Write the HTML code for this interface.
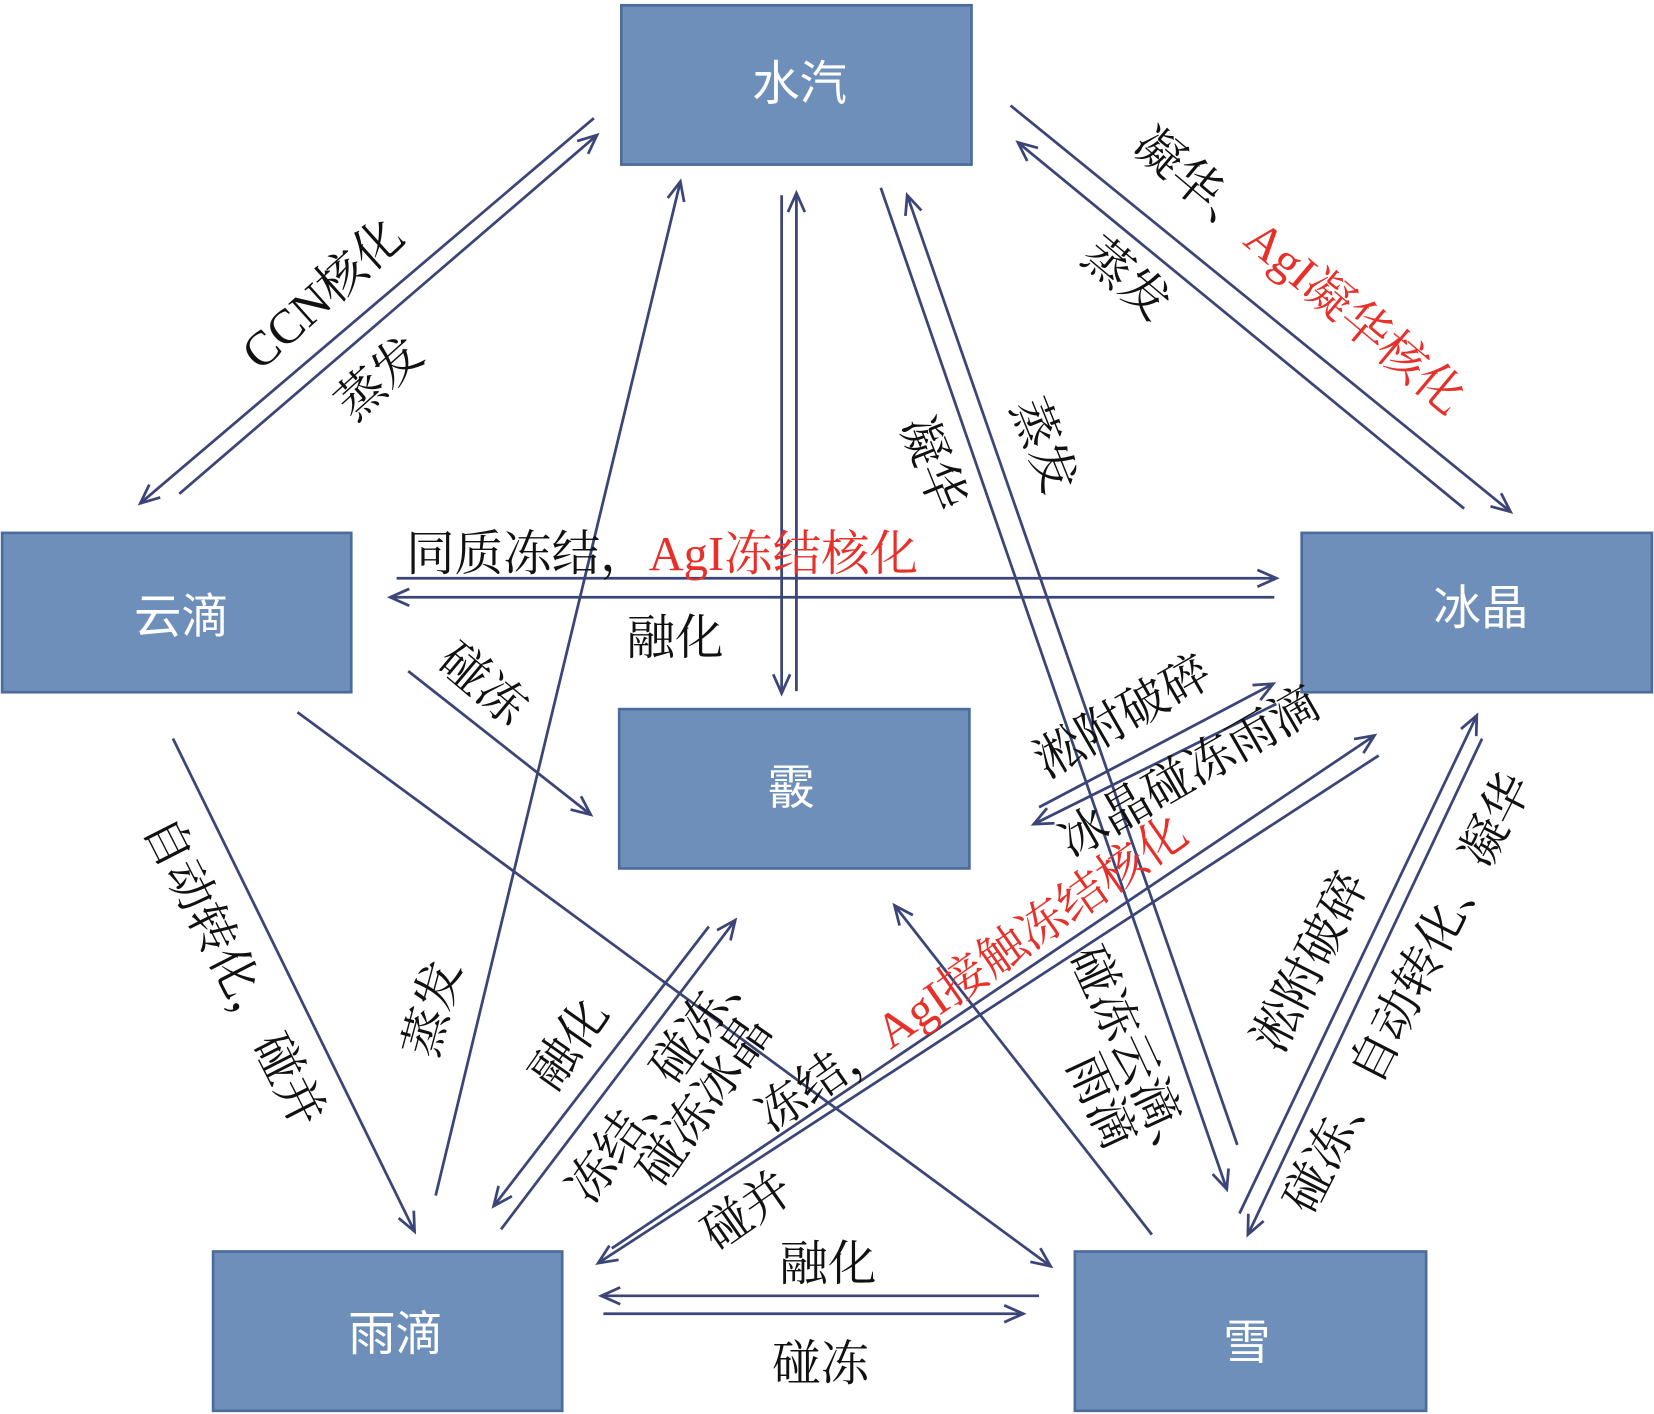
<!DOCTYPE html>
<html><head><meta charset="utf-8"><style>
html,body{margin:0;padding:0;background:#fff;}
svg{display:block;}
text{font-family:"Liberation Serif","Noto Serif CJK SC",serif;font-size:46px;fill:#111;}
.w{fill:#fff;font-family:"Liberation Sans","Noto Sans CJK SC",sans-serif;font-size:45px;}
.r{fill:#e8302a;}
line{stroke:#3b4577;stroke-width:2.6;marker-end:url(#a);}
rect{fill:#6d8fba;stroke:#4b6b9c;stroke-width:2.5;}
</style></head><body>
<svg width="1654" height="1414" viewBox="0 0 1568 1340" preserveAspectRatio="none" xmlns="http://www.w3.org/2000/svg">
<defs><marker id="a" markerWidth="30" markerHeight="30" refX="20" refY="10" orient="auto" markerUnits="userSpaceOnUse"><path d="M2,2 L20,10 L2,18" fill="none" stroke="#3b4577" stroke-width="2.6"/></marker></defs>
<rect x="589" y="5" width="332" height="151"/>
<rect x="2" y="505" width="331" height="151"/>
<rect x="1234" y="505" width="332" height="151"/>
<rect x="587" y="672" width="332" height="151"/>
<rect x="202" y="1186" width="331" height="151"/>
<rect x="1019" y="1186" width="333" height="151"/>
<text class="w" x="758" y="95" text-anchor="middle">水汽</text>
<text class="w" x="172" y="600" text-anchor="middle">云滴</text>
<text class="w" x="1404" y="592" text-anchor="middle">冰晶</text>
<text class="w" x="750" y="762" text-anchor="middle">霰</text>
<text class="w" x="375" y="1280" text-anchor="middle">雨滴</text>
<text class="w" x="1182" y="1288" text-anchor="middle">雪</text>

<line x1="563" y1="112" x2="133" y2="477"/>
<line x1="170" y1="468" x2="566" y2="128"/>
<line x1="958" y1="100" x2="1432" y2="485"/>
<line x1="1388" y1="482" x2="965" y2="135"/>
<line x1="741" y1="185" x2="741" y2="657"/>
<line x1="755" y1="655" x2="755" y2="183"/>
<line x1="835" y1="178" x2="1163" y2="1127"/>
<line x1="1173" y1="1085" x2="860" y2="185"/>
<line x1="413" y1="1133" x2="645" y2="172"/>
<line x1="376" y1="548" x2="1210" y2="548"/>
<line x1="1208" y1="566" x2="370" y2="566"/>
<line x1="387" y1="636" x2="560" y2="772"/>
<line x1="164" y1="700" x2="393" y2="1167"/>
<line x1="282" y1="675" x2="996" y2="1200"/>
<line x1="985" y1="765" x2="1207" y2="648"/>
<line x1="1210" y1="667" x2="980" y2="781"/>
<line x1="580" y1="1183" x2="1303" y2="697"/>
<line x1="1307" y1="716" x2="567" y2="1197"/>
<line x1="672" y1="878" x2="468" y2="1143"/>
<line x1="475" y1="1165" x2="697" y2="872"/>
<line x1="1092" y1="1170" x2="848" y2="858"/>
<line x1="1175" y1="1150" x2="1400" y2="678"/>
<line x1="1405" y1="700" x2="1183" y2="1170"/>
<line x1="985" y1="1228" x2="570" y2="1228"/>
<line x1="572" y1="1245" x2="970" y2="1245"/>

<text transform="translate(316,290) rotate(-42)" text-anchor="middle">CCN核化</text>
<text transform="translate(370,370) rotate(-42)" text-anchor="middle">蒸发</text>
<text transform="translate(1222,268) rotate(40)" text-anchor="middle">凝华、<tspan class="r">AgI凝华核化</tspan></text>
<text transform="translate(1058,276) rotate(40)" text-anchor="middle">蒸发</text>
<text transform="translate(870,445) rotate(68)" text-anchor="middle">凝华</text>
<text transform="translate(975,428) rotate(68)" text-anchor="middle">蒸发</text>
<text x="385" y="540">同质冻结，<tspan class="r">AgI冻结核化</tspan></text>
<text x="640" y="620" text-anchor="middle">融化</text>
<text transform="translate(448,660) rotate(40)" text-anchor="middle">碰冻</text>
<text transform="translate(208,928) rotate(63)" text-anchor="middle">自动转化，碰并</text>
<text transform="translate(425,960) rotate(-75)" text-anchor="middle">蒸发</text>
<text transform="translate(552,998) rotate(-55)" text-anchor="middle">融化</text>
<text transform="translate(640,1030) rotate(-55)" text-anchor="middle">冻结、碰冻、</text>
<text transform="translate(680,1052) rotate(-55)" text-anchor="middle">碰冻冰晶</text>
<text transform="translate(930,935) rotate(-35)" text-anchor="middle">冻结，<tspan class="r">AgI接触冻结核化</tspan></text>
<text transform="translate(1072,692) rotate(-30)" text-anchor="middle">淞附破碎</text>
<text transform="translate(1135,745) rotate(-30)" text-anchor="middle">冰晶碰冻雨滴</text>
<text transform="translate(1062,1010) rotate(65)" text-anchor="middle">碰冻云滴、</text>
<text transform="translate(1030,1050) rotate(65)" text-anchor="middle">雨滴</text>
<text transform="translate(1256,918) rotate(-63)" text-anchor="middle">淞附破碎</text>
<text transform="translate(1348,948) rotate(-63)" text-anchor="middle">碰冻、自动转化、凝华</text>
<text transform="translate(717,1160) rotate(-35)" text-anchor="middle">碰并</text>
<text x="785" y="1213" text-anchor="middle">融化</text>
<text x="778" y="1308" text-anchor="middle">碰冻</text>
</svg>
</body></html>
